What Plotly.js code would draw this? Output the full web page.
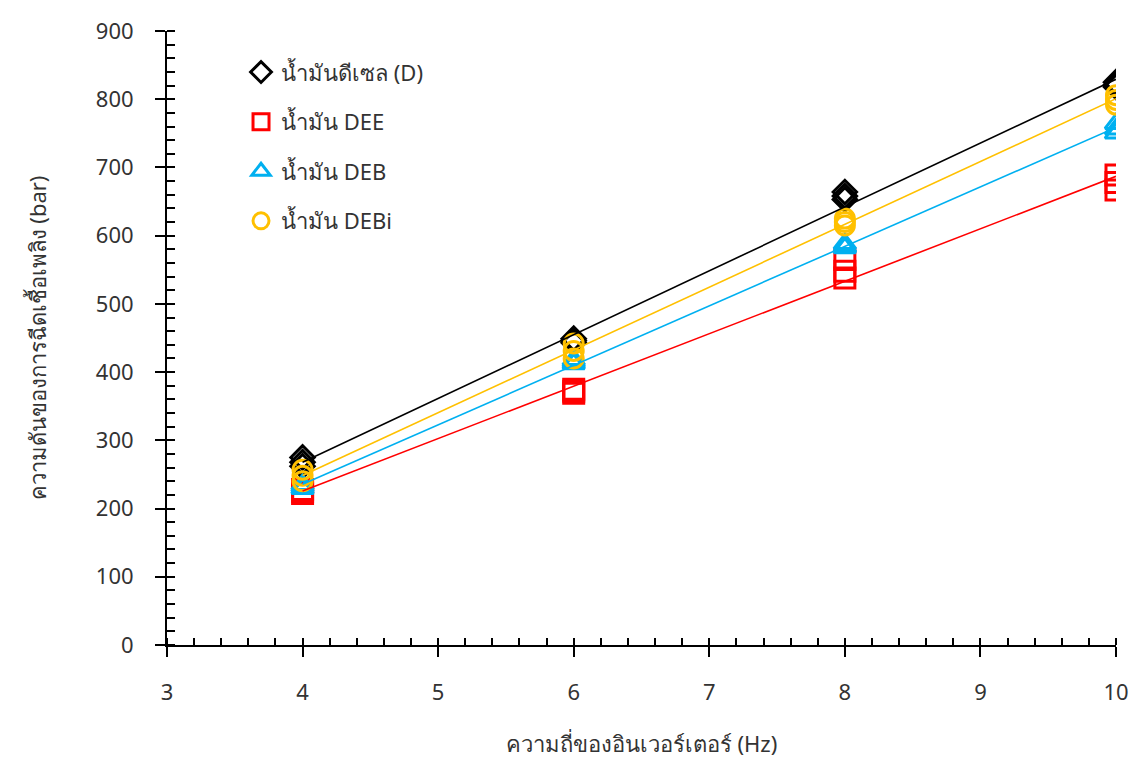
<!DOCTYPE html>
<html>
<head>
<meta charset="utf-8">
<script src="https://cdn.plot.ly/plotly-3.0.1.min.js"></script>
<style>html,body{margin:0;padding:0;background:#fff;}#chart{width:1133px;height:758px;}</style>
</head>
<body>
<div id="chart"></div>
<script>
// Frequency (Hz), repeated measurements
const xD     = [4, 4, 4, 6, 6, 6, 8, 8, 8, 10, 10, 10];
const yD     = [275, 268, 262, 449, 446, 443, 664, 658, 653, 825, 821, 818];
const xDEE   = [4, 4, 4, 6, 6, 6, 8, 8, 8, 10, 10, 10];
const yDEE   = [228, 225, 222, 375, 372, 369, 565, 548, 538, 689, 678, 667];
const xDEB   = [4, 4, 4, 6, 6, 6, 8, 8, 8, 10, 10, 10];
const yDEB   = [235, 232, 229, 418, 415, 412, 588, 584, 582, 764, 756, 750];
const xDEBi  = [4, 4, 4, 6, 6, 6, 8, 8, 8, 10, 10, 10];
const yDEBi  = [257, 248, 240, 442, 431, 420, 625, 620, 615, 806, 799, 792];
const seriesNames = ['น้ำมันดีเซล (D)', 'น้ำมัน DEE', 'น้ำมัน DEB', 'น้ำมัน DEBi'];
const xTickVals = [3, 4, 5, 6, 7, 8, 9, 10];
const yTickVals = [0, 100, 200, 300, 400, 500, 600, 700, 800, 900];

const colors = ['#000000', '#FF0000', '#00B0F0', '#FFC000'];
const symbols = ['diamond-open', 'square-open', 'triangle-up-open', 'circle-open'];
const sizes = [18, 20, 19, 19];
const xs = [xD, xDEE, xDEB, xDEBi];
const ys = [yD, yDEE, yDEB, yDEBi];

function fit(x, y) {
  const n = x.length;
  const mx = x.reduce((a, b) => a + b, 0) / n;
  const my = y.reduce((a, b) => a + b, 0) / n;
  let sxy = 0, sxx = 0;
  for (let i = 0; i < n; i++) { sxy += (x[i] - mx) * (y[i] - my); sxx += (x[i] - mx) ** 2; }
  const m = sxy / sxx;
  return { m: m, b: my - m * mx };
}

const traces = [];
for (let i = 0; i < 4; i++) {
  traces.push({
    x: xs[i], y: ys[i], type: 'scatter', mode: 'markers', name: seriesNames[i],
    legendgroup: 'g' + i,
    marker: { symbol: symbols[i], size: sizes[i], color: colors[i], line: { color: colors[i], width: 3 } },
    hoverinfo: 'x+y'
  });
}
for (let i = 0; i < 4; i++) {
  const f = fit(xs[i], ys[i]);
  const x0 = Math.min(...xs[i]), x1 = Math.max(...xs[i]);
  traces.push({
    x: [x0, x1], y: [f.m * x0 + f.b, f.m * x1 + f.b], type: 'scatter', mode: 'lines',
    line: { color: colors[i], width: 1.6 }, showlegend: false, hoverinfo: 'skip'
  });
}
// invisible trace for overlay axis (inside major x ticks)
traces.push({ x: [3, 10], y: [0, 0], xaxis: 'x2', type: 'scatter', mode: 'markers',
  marker: { opacity: 0 }, showlegend: false, hoverinfo: 'skip' });

const tickFont = { family: 'Noto Sans, DejaVu Sans, sans-serif', size: 22, color: '#333333' };

const layout = {
  width: 1133, height: 758,
  margin: { l: 167, r: 17, t: 31, b: 113 },
  paper_bgcolor: '#ffffff', plot_bgcolor: '#ffffff',
  showlegend: true,
  legend: {
    x: 0.078, y: 0.967, xanchor: 'left', yanchor: 'top',
    font: { family: 'Noto Sans, DejaVu Sans, sans-serif', size: 22, color: '#333333' },
    traceorder: 'grouped', tracegroupgap: 18, bgcolor: 'rgba(0,0,0,0)'
  },
  xaxis: {
    range: [3, 10], tickvals: xTickVals, ticktext: xTickVals.map(String),
    showgrid: false, zeroline: false, showline: true, linecolor: '#000', linewidth: 2,
    ticks: 'outside', ticklen: 10, tickwidth: 2, tickcolor: '#000',
    ticklabelstandoff: 17,
    minor: { dtick: 0.2, ticks: 'inside', ticklen: 7, tickwidth: 2, tickcolor: '#000', showgrid: false },
    tickfont: tickFont,
    title: { text: 'ความถี่ของอินเวอร์เตอร์ (Hz)', font: tickFont, standoff: 31 }
  },
  xaxis2: {
    overlaying: 'x', anchor: 'y', side: 'bottom', range: [3, 10], tickvals: xTickVals,
    showticklabels: false, showgrid: false, zeroline: false, showline: false,
    ticks: 'inside', ticklen: 7, tickwidth: 2, tickcolor: '#000'
  },
  yaxis: {
    range: [0, 900], tickvals: yTickVals, ticktext: yTickVals.map(String),
    showgrid: false, zeroline: false, showline: true, linecolor: '#000', linewidth: 2,
    ticks: 'outside', ticklen: 10, tickwidth: 2, tickcolor: '#000',
    ticklabelstandoff: 17,
    minor: { dtick: 20, ticks: 'inside', ticklen: 8, tickwidth: 2, tickcolor: '#000', showgrid: false },
    tickfont: tickFont,
    title: { text: 'ความดันของการฉีดเชื้อเพลิง (bar)', font: tickFont, standoff: 43 }
  }
};

Plotly.newPlot('chart', traces, layout, { displayModeBar: false, staticPlot: true });
</script>
</body>
</html>
